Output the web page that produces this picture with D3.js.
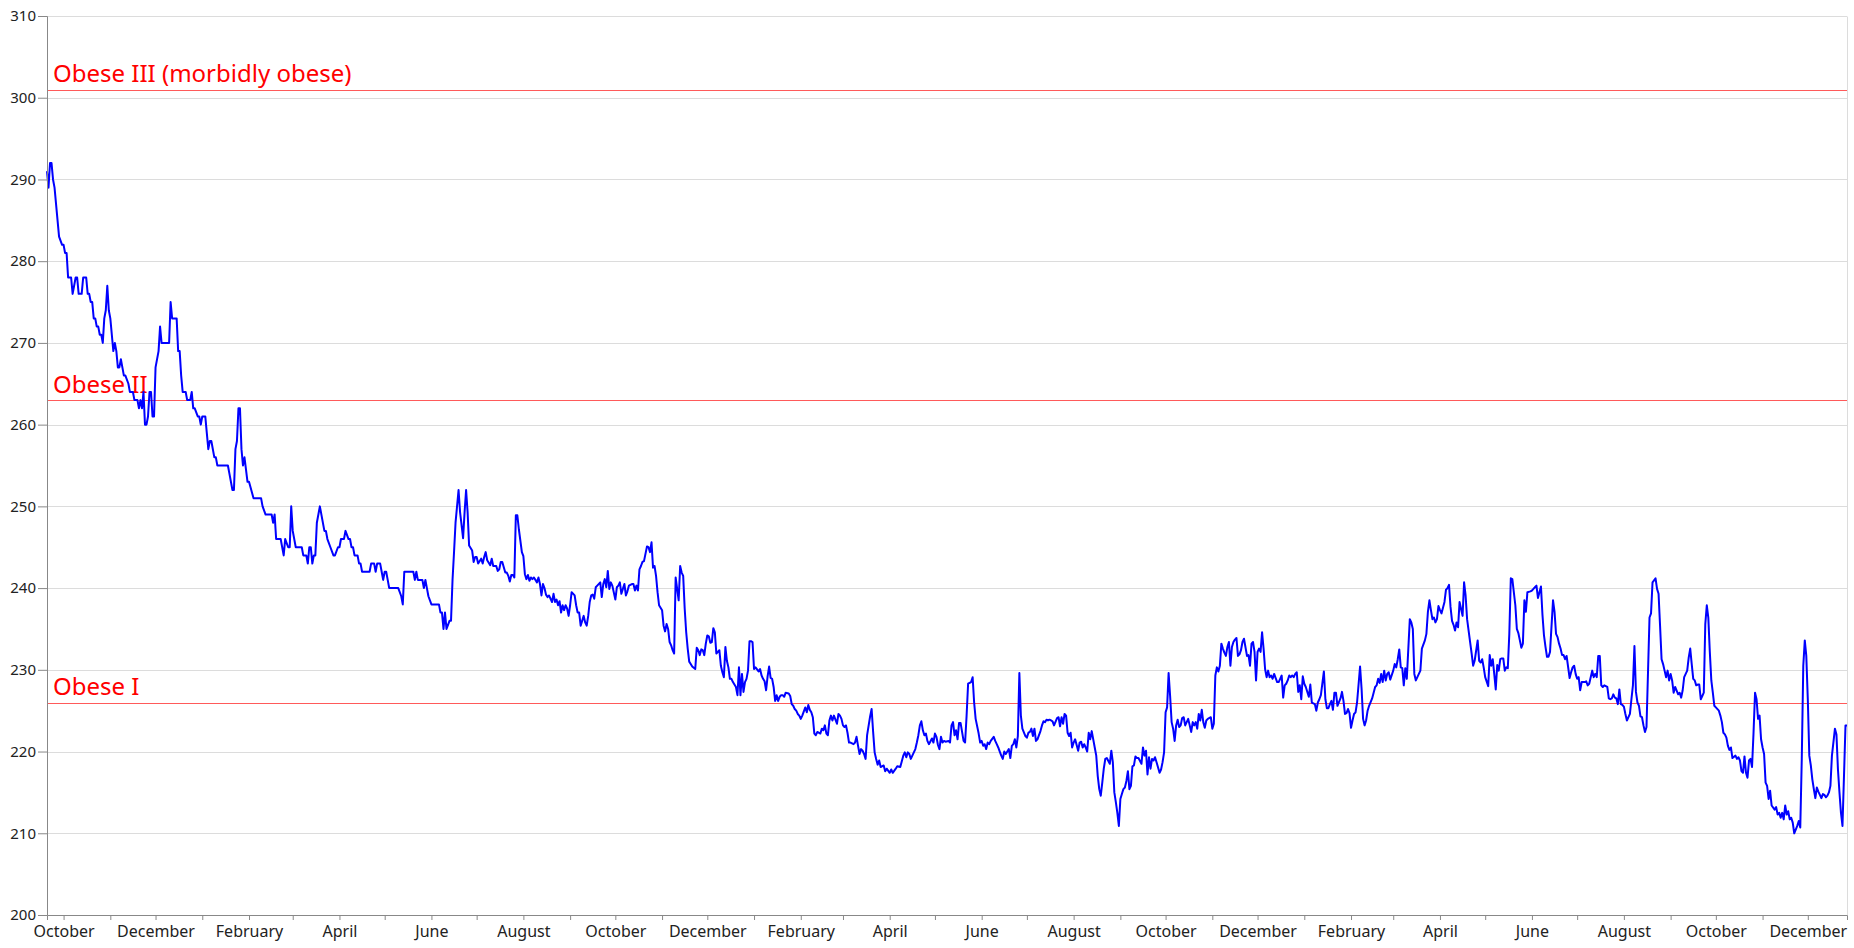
<!DOCTYPE html>
<html>
<head>
<meta charset="utf-8">
<script src="https://cdn.jsdelivr.net/npm/d3@7"></script>
<style>
  html, body { margin: 0; padding: 0; background: #fff; }
  svg { display: block; font-family: "Noto Sans", "Open Sans", sans-serif; }
</style>
</head>
<body>
<svg id="chart" width="1854" height="948"></svg>
<script>
// ---- data: [day offset from start date, weight] ----
const startDate = "2015-09-20";
const endDay = 1194;
const readings2015 = [[0,291],[1,289],[2,292],[3,292],[4,290],[5,289],[7,285],[8,283],[10,282],[11,282],[12,281],[13,281],[14,278],[16,278],[17,276],[19,278],[20,278],[21,276],[23,276],[24,278],[26,278],[27,276],[28,276],[29,275],[30,275],[31,273],[32,273],[33,272],[34,272],[35,271],[36,271],[37,270],[38,273],[39,274],[40,277],[41,274],[42,273],[44,269],[45,270],[46,269],[47,267],[48,267],[49,268],[50,267],[51,266],[52,266],[54,265],[55,264],[57,264],[58,263],[60,263],[61,262],[62,263],[63,262],[64,264],[65,260],[66,260],[67,261],[68,264],[69,264],[70,261],[71,261],[72,267],[74,269],[75,272],[76,270],[81,270],[82,275],[83,273],[86,273],[87,269],[88,269],[89,266],[90,264],[92,264],[93,263],[95,263],[96,264],[97,262],[98,262],[100,261],[101,261],[102,260]];
const readings2016 = [[103,261],[105,261],[106,259],[107,257],[108,258],[109,258],[111,256],[112,256],[113,255],[120,255],[121,254],[123,252],[124,252],[125,257],[126,258],[127,262],[128,262],[129,257],[130,255],[131,256],[133,253],[134,253],[137,251],[142,251],[143,250],[145,249],[149,249],[150,248],[151,249],[152,246],[155,246],[157,244],[158,246],[160,245],[161,245],[162,250],[163,247],[165,245],[169,245],[170,244],[172,244],[173,243],[174,245],[175,245],[176,243],[177,244],[178,244],[179,248],[181,250],[184,247],[185,247],[186,246],[188,245],[190,244],[191,244],[193,245],[194,245],[195,246],[197,246],[198,247],[200,246],[201,246],[202,245],[203,245],[204,244],[206,244],[207,243],[208,243],[209,242],[214,242],[215,243],[217,243],[218,242],[219,243],[221,243],[222,242],[223,241],[224,242],[225,242],[226,241],[227,240],[233,240],[235,239],[236,238],[237,242],[243,242],[244,241],[245,242],[246,241],[249,241],[250,240],[251,241],[252,240],[253,239],[255,238],[260,238],[261,237],[262,237],[263,235],[264,237],[265,235],[267,236],[268,236],[269,241],[270,244.4],[271,248],[273,252],[274,249.3],[276,246.1],[277,249.3],[278,252],[279,249.3],[280,245.2],[282,244.6],[283,243.2],[284,243.8],[285,243.8],[286,243],[288,243.6],[289,243],[290,243.8],[291,244.4],[292,243.4],[294,242.8],[295,243.6],[296,242.7],[298,242.7],[299,242.1],[300,242.3],[301,243.2],[302,243.2],[304,241.9],[305,241.9],[306,241.5],[307,240.8],[308,241.6],[309,241.6],[310,241.3],[311,248.9],[312,248.9],[313,247.2],[315,244.4],[316,243.9],[317,241.7],[318,241.1],[319,241.6],[320,240.9],[321,241.3],[322,241.1],[323,241.3],[325,240.7],[326,241.3],[327,240.5],[328,239.1],[329,240.5],[330,240],[331,239.2],[332,238.9],[333,239.1],[335,238.3],[336,239.3],[337,238.3],[338,238.6],[339,237.9],[340,238.4],[341,237],[342,237.9],[343,237.3],[344,237.9],[345,237.5],[346,236.6],[347,237.9],[348,239.5],[350,239.1],[351,237.9],[352,237],[353,237],[354,235.4],[356,236.6],[357,235.8],[358,235.4],[359,236.6],[360,238.3],[361,239.1],[362,239.2],[363,238.7],[364,240.1],[365,240.3],[367,240.7],[368,238.9],[369,240.5],[370,241.1],[371,240.1],[372,242.1],[373,239.9],[374,240.7],[375,240.3],[377,238.6],[378,240.1],[379,240.3],[380,240.7],[381,239.3],[382,239.9],[383,240.5],[384,239.1],[385,239.6],[386,240.3],[388,240.5],[389,240.5],[390,239.7],[391,240.3],[392,239.7],[393,242.3],[394,242.7],[395,243.2],[396,243.3],[398,245.1],[399,245],[400,244.4],[401,245.6],[402,242.5],[403,242.7],[404,241.5],[405,239.5],[406,237.9],[408,237.3],[409,235.4],[410,234.7],[411,235.6],[412,235],[413,233.4],[414,233],[415,232.4],[416,232],[417,241.3],[419,238.5],[420,242.7],[421,241.9],[422,241.5],[423,237.5],[424,234.6],[425,232.6],[426,231],[427,230.7],[428,230.4],[430,230.1],[431,232.7],[432,232.4],[433,231.8],[434,232.5],[435,232.4],[436,231.8],[437,233.2],[438,234.2],[439,234.1],[440,233.3],[441,233.4],[442,235.1],[443,234.6],[444,232],[446,232.4],[447,230.5],[448,229.7],[449,229.1],[450,232.8],[451,231.1],[452,230.3],[453,228.9],[454,228.9],[455,228.5],[457,227.9],[458,226.9],[459,230.3],[460,226.9],[461,229.5],[462,227.3],[463,228.5],[464,228.9],[465,229.9],[466,233.5],[467,233.5],[468,233.4]];
const readings2017 = [[469,230.1],[470,230.3],[472,229.8],[473,230.1],[474,229.3],[475,228.9],[476,228.6],[477,227.5],[478,229.2],[479,230.4],[480,229],[481,228.9],[482,227.9],[483,226.2],[484,226.9],[485,226.2],[486,226.7],[487,226.9],[488,226.9],[489,226.7],[490,227.2],[492,227.1],[493,226.8],[494,225.8],[495,225.6],[496,225.2],[497,225],[498,224.6],[499,224.4],[500,224],[501,224.4],[503,225.4],[504,224.8],[505,225.7],[506,225.1],[507,224.8],[508,224.2],[509,222.2],[510,222],[511,222.4],[513,222.2],[514,222.8],[515,222.6],[516,223.2],[517,222.2],[518,222],[519,223.8],[520,224.4],[521,223.8],[522,224.4],[524,223.4],[525,224.6],[526,224.4],[527,224],[528,223.2],[529,223],[530,223.2],[531,222.3],[532,221.1],[533,221.1],[535,220.9],[536,221.1],[537,221.8],[538,220.7],[539,219.7],[540,220.3],[541,220.1],[542,219.7],[543,219.1],[544,222],[546,224.3],[547,225.2],[548,222.4],[549,219.9],[550,219.1],[551,218.4],[552,218.9],[553,218.1],[555,218.3],[556,217.6],[557,217.9],[559,217.4],[560,217.8],[561,217.4],[563,217.9],[564,218.2],[566,218.1],[568,219.5],[569,219.9],[570,219.3],[571,219.9],[572,219.7],[573,219.1],[574,219.5],[576,220.3],[577,221.1],[578,222],[579,223.2],[580,223.7],[581,222.6],[582,222],[583,222.2],[584,221.3],[585,220.9],[587,221.6],[588,221.1],[589,222.2],[590,221.8],[591,220.8],[592,220.3],[593,221.8],[594,221.1],[595,221.3],[596,221.2],[598,221.3],[599,221.1],[600,223.2],[601,223.6],[602,222],[603,222.6],[604,221.5],[605,223.5],[606,223.5],[608,221.3],[609,221.1],[610,224.4],[611,228.3],[612,228.4],[613,228.5],[614,229.1],[615,226],[616,224],[618,222.2],[619,221.1],[620,221.3],[621,220.7],[622,220.9],[623,220.3],[624,221.1],[625,220.9],[626,221.3],[628,221.8],[629,221.3],[630,220.9],[631,220.5],[632,220],[633,219.5],[634,219.1],[635,220],[636,219.7],[638,220.3],[639,219.2],[640,220.7],[641,220.9],[642,221.5],[643,220.5],[644,221.9],[645,229.6],[646,224.4],[647,222.8],[649,221.9],[650,221.7],[651,222.3],[652,222.4],[653,222.8],[654,221.9],[655,222.8],[656,221.3],[657,221.5],[659,222.5],[660,223.2],[661,223.7],[662,223.6],[663,223.9],[664,223.8],[665,223.9],[666,223.8],[667,223.7],[668,223.2],[670,224.1],[671,224.2],[672,223.1],[673,224.2],[674,223.4],[675,224.6],[676,224.4],[677,222.3],[678,221.9],[679,222.3],[680,220.5],[681,221.1],[682,221.5],[684,220.1],[685,221.1],[686,221.2],[687,220.5],[688,220.9],[689,220.5],[690,220],[691,222.3],[692,221.5],[693,222.5],[695,220.5],[696,219.5],[697,217],[698,215.4],[699,214.6],[700,216.2],[701,217.9],[702,219.1],[703,219.2],[705,218.5],[706,220.1],[707,218.7],[708,215],[709,213.8],[710,212.5],[711,210.9],[712,214.2],[713,214.8],[714,215.4],[715,215.6],[716,216.4],[717,217.6],[718,215.4],[719,215.8],[720,218.2],[721,218.3],[722,219.4],[723,219.2],[724,219.2],[726,218.5],[727,220.5],[728,219.5],[729,220.1],[730,217.2],[731,219.3],[732,217.9],[733,219.1],[734,218.9],[735,219.3],[736,218.7],[738,217.4],[739,217.8],[740,218.7],[741,219.9],[742,224.8],[743,225.4],[744,229.6],[745,226.8],[746,223.6],[747,222.8],[748,221.3],[749,223.2],[750,223.9],[751,223],[752,223.2],[753,224.1],[754,224.2],[755,223.2],[757,224],[758,223.2],[759,222.4],[760,223.6],[761,223.2],[762,223.6],[763,222.8],[764,224.6],[765,223.8],[766,225.1],[767,223.6],[768,222.9],[769,223.8],[770,224],[772,224.2],[773,222.8],[774,223.4],[775,229.3],[776,230.3],[777,229.8],[778,230.5],[779,233.2],[780,232.6],[781,232.1],[782,231.7],[783,232.8],[784,233.4],[785,230.5],[786,232.8],[787,233.4],[788,233.7],[789,233.9],[790,231.7],[791,231.9],[792,232.4],[793,233.4],[794,233.8],[796,231.7],[797,231.8],[798,230.5],[799,233.2],[800,233.4],[801,232.2],[802,228.7],[803,232.2],[804,232.6],[805,232.2],[806,234.6],[807,232.6],[808,230.1],[809,229.1],[810,229.9],[811,229.1],[812,229.3],[813,228.9],[814,229.5],[816,228.5],[817,228.5],[818,228.9],[819,229.3],[820,226.6],[821,228.1],[822,228.3],[823,228.7],[824,229.3],[825,229.1],[826,229.3],[827,229.1],[828,229.5],[829,229.7],[830,227.3],[831,228.1],[832,226.4],[833,229.2]];
const readings2018 = [[834,228.3],[835,227.9],[837,226.7],[838,228.2],[839,226],[840,225.9],[841,225.8],[842,225],[843,226],[844,226.4],[845,226.9],[847,229.8],[848,226.4],[849,225.3],[850,225.3],[851,225.8],[852,226.2],[853,225.1],[854,227.2],[855,227.2],[856,225.6],[858,226.5],[859,227.3],[860,226.2],[861,224.6],[862,224.7],[863,225.2],[864,224.7],[865,222.9],[866,223.8],[867,224.6],[868,224.8],[869,226],[871,230.4],[872,227.7],[873,224],[874,223.2],[875,223.8],[876,225],[877,225.6],[879,226.5],[880,227.2],[881,227.9],[882,228.1],[883,228.9],[884,228.4],[885,229.5],[886,228.5],[887,229.9],[888,228.7],[889,229.5],[890,229.7],[891,228.8],[893,229.9],[894,230.7],[895,230.3],[896,231.3],[897,232.5],[898,230.3],[899,230.2],[900,228.1],[901,230.2],[902,228.9],[904,236.2],[905,235.8],[906,235],[907,229.5],[908,228.7],[909,229.1],[910,229.5],[911,229.9],[912,232.6],[914,233.6],[915,234.4],[916,237.1],[917,238.5],[918,237.3],[919,236.2],[920,236.4],[921,235.8],[922,236.2],[923,237.8],[924,237.3],[925,236.9],[927,238.3],[928,239.8],[929,240],[930,240.4],[931,237.7],[932,236],[933,235.5],[934,234.8],[935,235.8],[936,235.2],[937,238.3],[939,236.6],[940,240.7],[941,239.1],[942,236.2],[943,234.8],[944,233.4],[945,232],[946,230.5],[947,231.1],[949,233.6],[950,231.1],[951,230.9],[952,231.3],[953,230.3],[954,229.1],[956,228],[957,231.8],[958,230.5],[959,231.3],[960,229.5],[961,227.6],[962,230.6],[963,229.9],[964,231.3],[965,231.4],[966,231.4],[967,229.9],[968,230.3],[969,230.2],[970,234.4],[971,241.2],[972,241.1],[974,237.9],[975,235],[976,234.5],[977,233.6],[978,232.7],[979,233.2],[980,238.5],[981,237.1],[982,239.5],[984,239.6],[985,239.7],[986,239.9],[987,240.1],[988,240.3],[989,238.8],[990,239.5],[991,240.2],[992,236.7],[993,234.2],[994,232.8],[995,231.6],[996,231.6],[997,232.2],[999,238.5],[1000,237.1],[1001,234.4],[1002,234],[1003,233.2],[1004,232.6],[1005,231.8],[1006,231.8],[1007,231.3],[1008,231.7],[1010,229],[1011,229.7],[1012,230.3],[1013,230.5],[1014,229.5],[1015,228.9],[1016,229.1],[1017,227.5],[1018,228.5],[1020,228.5],[1021,228.6],[1022,228.1],[1023,228.3],[1025,229.9],[1026,229.1],[1027,229.5],[1028,229.1],[1029,231.7],[1030,231.7],[1031,228.1],[1032,227.9],[1033,228.1],[1035,227.9],[1036,226.5],[1037,226.4],[1038,226.5],[1039,227],[1040,226.6],[1041,226.5],[1042,225.8],[1043,227.6],[1044,225.8],[1045,225.7],[1046,225.5],[1047,224.6],[1048,223.8],[1050,224.6],[1051,226.4],[1052,228.1],[1053,232.9],[1054,227.3],[1055,226],[1056,225.6],[1057,224.3],[1058,224.2],[1059,223.2],[1060,222.4],[1061,223],[1062,229.7],[1063,236.4],[1064,236.9],[1065,240.7],[1067,241.2],[1068,239.9],[1069,239.3],[1070,235.4],[1071,231.3],[1072,230.7],[1073,229.9],[1074,229.1],[1075,229.9],[1076,228.7],[1077,229.5],[1078,228.7],[1079,227.2],[1080,227.9],[1082,227],[1083,227.2],[1084,226.6],[1085,227.5],[1086,229.1],[1087,229.5],[1088,229.9],[1089,231.5],[1090,232.6],[1091,230.7],[1092,228.9],[1093,228.7],[1094,228.1],[1095,228.2],[1096,228.2],[1097,226.4],[1098,226.8],[1099,227.2],[1100,235.6],[1101,237.9],[1102,236.4],[1103,232.2],[1104,228.7],[1105,227.2],[1106,225.6],[1107,225.4],[1109,225],[1110,224.4],[1111,223.6],[1112,222.3],[1113,222.1],[1114,221.7],[1115,220.7],[1116,220.2],[1117,220.5],[1118,219.2],[1120,219.5],[1121,219.1],[1122,219.3],[1123,218.9],[1124,217.6],[1125,217.4],[1126,219.4],[1127,217.4],[1128,216.8],[1129,218.9],[1130,219.1],[1131,218.1],[1132,222.3],[1133,227.2],[1134,226.4],[1135,224],[1136,224.4],[1137,221.5],[1138,220.5],[1139,219.7],[1140,216.2],[1141,215.8],[1142,214.2],[1143,215.2],[1144,213.4],[1146,212.9],[1147,213.2],[1148,212.3],[1149,212.5],[1150,211.9],[1151,212.5],[1152,211.7],[1153,213.4],[1154,212.3],[1155,212.7],[1156,211.7],[1157,211.9],[1158,211.3],[1159,210],[1161,210.9],[1162,211.5],[1163,210.7],[1164,219.1],[1165,230.5],[1166,233.6],[1167,231.7],[1168,226.4],[1169,219.5],[1170,218.3],[1171,216.6],[1172,215.4],[1173,214.3],[1174,215.6],[1175,215.1],[1177,214.3],[1178,214.8],[1179,214.7],[1180,214.4],[1181,214.6],[1182,215],[1183,215.8],[1184,219.5],[1186,222.8],[1187,222.1],[1188,217.8],[1189,215],[1190,212.5],[1191,210.9],[1192,217],[1193,223.2],[1194,223.2]];

const thresholdValues = [301, 263, 226];
const thresholdLabels = ["Obese III (morbidly obese)", "Obese II", "Obese I"];
const yDomain = [200, 310];
const yTickValues = [200, 210, 220, 230, 240, 250, 260, 270, 280, 290, 300, 310];

// ---- layout ----
const FONT = "'Noto Sans', 'Open Sans', sans-serif";
const svg = d3.select("#chart");
const margin = { left: 47, top: 16 };
const width = 1800, height = 899;
const g = svg.append("g").attr("transform", `translate(${margin.left},${margin.top})`);

const t0 = d3.timeParse("%Y-%m-%d")(startDate);
const toDate = d => d3.timeDay.offset(t0, d);
const readings = [].concat(readings2015, readings2016, readings2017, readings2018)
  .map(([d, w]) => ({ date: toDate(d), weight: w }));

const x = d3.scaleTime().domain([t0, toDate(endDay)]).range([0, width]);
const y = d3.scaleLinear().domain(yDomain).range([height, 0]);

// gridlines
g.append("g").selectAll("line").data(yTickValues.filter(v => v > 200)).join("line")
  .attr("x1", 0).attr("x2", width)
  .attr("y1", d => Math.round(y(d)) + 0.5).attr("y2", d => Math.round(y(d)) + 0.5)
  .attr("stroke", "#dcdcdc").attr("stroke-width", 1);
// right border
g.append("line").attr("x1", width + 0.5).attr("x2", width + 0.5)
  .attr("y1", 0.5).attr("y2", height).attr("stroke", "#dcdcdc");

// thresholds
const th = g.append("g");
thresholdValues.forEach((v, i) => {
  th.append("line").attr("x1", 0).attr("x2", width)
    .attr("y1", Math.round(y(v)) + 0.5).attr("y2", Math.round(y(v)) + 0.5)
    .attr("stroke", "#ff5a5a").attr("stroke-width", 1);
  th.append("text").attr("x", 6).attr("y", y(v) - 7.5)
    .attr("fill", "#ff0000").attr("font-size", 24).attr("font-family", FONT)
    .text(thresholdLabels[i]);
});

// line
const line = d3.line().x(d => x(d.date)).y(d => y(d.weight));
g.append("path").datum(readings)
  .attr("d", line).attr("fill", "none")
  .attr("stroke", "#0000ff").attr("stroke-width", 2).attr("stroke-linejoin", "round");

// axes
const yAxis = d3.axisLeft(y).tickValues(yTickValues).tickSize(9).tickPadding(2).tickFormat(d3.format("d"));
const yG = g.append("g").call(yAxis);
yG.select(".domain").attr("stroke", "#888");
yG.selectAll(".tick line").attr("stroke", "#888");
yG.selectAll(".tick text").attr("font-size", 15).attr("fill", "#222").attr("font-family", FONT);

const monthFmt = d3.timeFormat("%B");
const xAxis = d3.axisBottom(x).ticks(d3.timeMonth.every(1)).tickSize(5).tickPadding(6)
  .tickFormat(d => d.getMonth() % 2 === 1 ? monthFmt(d) : "");
const xG = g.append("g").attr("transform", `translate(0,${height})`).call(xAxis);
xG.select(".domain").attr("stroke", "#888");
xG.selectAll(".tick line").attr("stroke", "#888");
xG.selectAll(".tick text").attr("font-size", 16).attr("fill", "#222").attr("font-family", FONT);
</script>
</body>
</html>
